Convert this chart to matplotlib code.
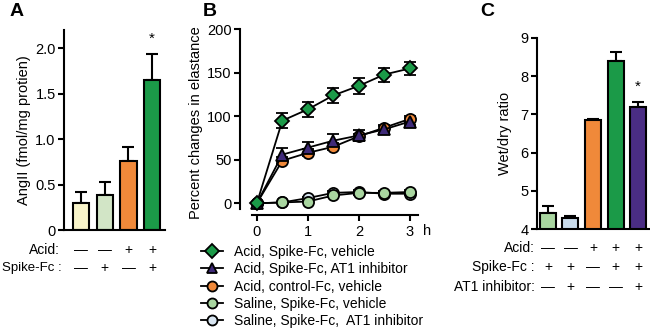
import matplotlib
matplotlib.use("Agg")
import matplotlib.pyplot as plt
import matplotlib.transforms as mtransforms
import numpy as np

plt.rcParams['font.family'] = ['Liberation Sans', 'DejaVu Sans']
plt.rcParams['font.size'] = 10.5

# ---------------- data ----------------
# Panel A
a_means = [0.30, 0.39, 0.76, 1.65]
a_errs = [0.12, 0.14, 0.15, 0.29]
a_colors = ['#f8f4c9', '#d2e5c6', '#f0893a', '#1b9a48']
a_acid = ['—', '—', '+', '+']
a_spike = ['—', '+', '—', '+']

# Panel B
b_time = [0, 0.5, 1.0, 1.5, 2.0, 2.5, 3.0]
b_green = [0, 95, 108, 124, 135, 148, 155]
b_green_err = [0, 9, 9, 9, 9, 8, 7]
b_purple = [0, 56, 64, 72, 78, 85, 94]
b_purple_err = [0, 7, 7, 8, 6, 4, 4]
b_orange = [0, 49, 58, 65, 77, 87, 97]
b_orange_err = [0, 4, 4, 4, 3, 3, 3]
b_salgreen = [0, 1, 2, 9, 12, 12, 13]
b_salgreen_err = [0, 1, 1, 2, 2, 2, 2]
b_salblue = [0, 1, 6, 12, 13, 11, 11]
b_salblue_err = [0, 1, 1, 2, 2, 2, 2]
b_labels = ['Acid, Spike-Fc, vehicle',
            'Acid, Spike-Fc, AT1 inhibitor',
            'Acid, control-Fc, vehicle',
            'Saline, Spike-Fc, vehicle',
            'Saline, Spike-Fc,  AT1 inhibitor']

# Panel C
c_means = [4.43, 4.30, 6.85, 8.38, 7.20]
c_errs = [0.18, 0.04, 0.03, 0.25, 0.12]
c_colors = ['#a9d6a0', '#c9dcec', '#f0893a', '#1b9a48', '#4a2d84']
c_acid = ['—', '—', '+', '+', '+']
c_spike = ['+', '+', '—', '+', '+']
c_at1 = ['—', '+', '—', '—', '+']

W, H = 650, 330
fig = plt.figure(figsize=(W / 100, H / 100), dpi=100)


def fy(px):
    return 1 - px / H


def style_axis(ax):
    for s in ['top', 'right']:
        ax.spines[s].set_visible(False)
    for s in ['left', 'bottom']:
        ax.spines[s].set_linewidth(1.5)
    ax.tick_params(axis='y', direction='out', width=1.5, length=4, pad=2)


ROWFS = 10
SIGNFS = 10

# ---------------- Panel A ----------------
axA = fig.add_axes([64 / W, fy(230), 101 / W, 200 / H])
xa = np.arange(len(a_means))
axA.bar(xa, a_means, width=0.68, color=a_colors, edgecolor='black', linewidth=1.5, zorder=2)
axA.errorbar(xa, a_means, yerr=[np.zeros(len(a_errs)), a_errs], fmt='none',
             ecolor='black', elinewidth=1.5, capsize=4.5, capthick=1.5, zorder=1)
axA.set_xlim(-0.72, 3.54)
axA.set_ylim(0, 2.2)
axA.set_yticks([0, 0.5, 1.0, 1.5, 2.0])
axA.set_yticklabels(['0', '0.5', '1.0', '1.5', '2.0'])
axA.set_xticks([])
style_axis(axA)
axA.set_ylabel('AngII (fmol/mg protien)', labelpad=3)
axA.annotate('*', (xa[3], a_means[3] + a_errs[3]), xytext=(0, 6), textcoords='offset points',
             ha='center', va='bottom', fontsize=11)
trA = mtransforms.blended_transform_factory(axA.transData, fig.transFigure)
for i in range(len(a_means)):
    axA.text(xa[i], fy(250), a_acid[i], transform=trA, ha='center', va='center', fontsize=SIGNFS)
    axA.text(xa[i], fy(268), a_spike[i], transform=trA, ha='center', va='center', fontsize=SIGNFS)
fig.text(60 / W, fy(250), 'Acid:', ha='right', va='center', fontsize=ROWFS)
fig.text(2 / W, fy(268), 'Spike-Fc :', ha='left', va='center', fontsize=9.5)
fig.text(10 / W, fy(12), 'A', fontsize=14, fontweight='bold', ha='left', va='center')

# ---------------- Panel B ----------------
axB = fig.add_axes([240 / W, fy(215), 178 / W, (215 - 29.3) / H])
series = [
    (b_green, b_green_err, 'D', '#1b9a48', 7.5),
    (b_purple, b_purple_err, '^', '#3f2a78', 8.5),
    (b_orange, b_orange_err, 'o', '#f0893a', 8),
    (b_salgreen, b_salgreen_err, 'o', '#a9d6a0', 8),
    (b_salblue, b_salblue_err, 'o', '#d9e6f2', 8),
]
handles = []
for k, (vals, errs, mk, col, ms) in enumerate(series):
    axB.errorbar(b_time, vals, yerr=errs, fmt='none', ecolor='black', elinewidth=1.3,
                 capsize=4, capthick=1.3, zorder=2 + k)
    ln, = axB.plot(b_time, vals, color='black', linewidth=1.3, marker=mk, markersize=ms,
                   markerfacecolor=col, markeredgecolor='black', markeredgewidth=1.3,
                   zorder=10 - k)
    handles.append(ln)
ymin_b = -(215 - 203.3) / 0.87
axB.set_ylim(ymin_b, ymin_b + (215 - 29.3) / 0.87)
axB.set_xlim(-0.33, 3.16)
axB.set_yticks([0, 50, 100, 150, 200])
axB.set_xticks([0, 1, 2, 3])
style_axis(axB)
axB.tick_params(axis='x', direction='out', width=1.5, length=4, pad=3)
axB.spines['left'].set_bounds(-6, 200)
axB.spines['bottom'].set_bounds(-0.1, 3.16)
axB.set_ylabel('Percent changes in elastance', labelpad=3)
fig.text(427 / W, fy(231), 'h', ha='center', va='center')
fig.legend(handles, b_labels, loc='upper left', bbox_to_anchor=(201 / W, fy(245)),
           frameon=False, fontsize=10, handlelength=1.6, handletextpad=0.8,
           labelspacing=0.24, borderpad=0, borderaxespad=0, markerscale=0.9)
fig.text(203 / W, fy(12), 'B', fontsize=14, fontweight='bold', ha='left', va='center')

# ---------------- Panel C ----------------
axC = fig.add_axes([536.7 / W, fy(229.3), (650 - 536.7) / W, 191.6 / H])
xc = np.arange(len(c_means))
axC.bar(xc, c_means, width=0.71, bottom=0, color=c_colors, edgecolor='black', linewidth=1.5, zorder=2)
axC.errorbar(xc, c_means, yerr=[np.zeros(len(c_errs)), c_errs], fmt='none',
             ecolor='black', elinewidth=1.5, capsize=4.5, capthick=1.5, zorder=1)
axC.set_xlim(-0.5, 4.53)
axC.set_ylim(4, 9)
axC.set_yticks([4, 5, 6, 7, 8, 9])
axC.set_xticks([])
style_axis(axC)
axC.set_ylabel('Wet/dry ratio', labelpad=6)
axC.annotate('*', (xc[4], c_means[4] + c_errs[4]), xytext=(0, 6), textcoords='offset points',
             ha='center', va='bottom', fontsize=11)
trC = mtransforms.blended_transform_factory(axC.transData, fig.transFigure)
for i in range(len(c_means)):
    axC.text(xc[i], fy(248), c_acid[i], transform=trC, ha='center', va='center', fontsize=SIGNFS)
    axC.text(xc[i], fy(267), c_spike[i], transform=trC, ha='center', va='center', fontsize=SIGNFS)
    axC.text(xc[i], fy(287), c_at1[i], transform=trC, ha='center', va='center', fontsize=SIGNFS)
fig.text(535 / W, fy(248), 'Acid:', ha='right', va='center', fontsize=ROWFS)
fig.text(535 / W, fy(267), 'Spike-Fc :', ha='right', va='center', fontsize=ROWFS)
fig.text(535 / W, fy(287), 'AT1 inhibitor:', ha='right', va='center', fontsize=ROWFS)
fig.text(480 / W, fy(11), 'C', fontsize=14, fontweight='bold', ha='left', va='center')

fig.savefig('out.png', dpi=100)
